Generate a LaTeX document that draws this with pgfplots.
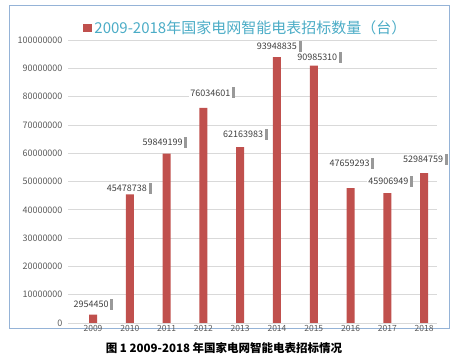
\documentclass[border=0pt]{standalone}
\usepackage{pgfplots}
\pgfplotsset{compat=1.18}
\usepackage{pgfplotstable}
\usepackage{fontspec}
\setmainfont{Noto Sans CJK SC}
\usetikzlibrary{shadows}
\definecolor{barred}{HTML}{C0504D}
\definecolor{titleblue}{HTML}{4BACC6}
\definecolor{framebl}{HTML}{95B3D7}
\definecolor{ticktxt}{HTML}{595959}
\definecolor{gridc}{HTML}{D9D9D9}
\pgfplotstableread{
x y lbl dx dy
0 2954450 2954450 -2 10
1 45478738 45478738 -3 6
2 59849199 59849199 -4 11.5
3 76034601 76034601 7 15
4 62163983 62163983 3 13
5 93948835 93948835 0 11
6 90985310 90985310 3.5 8
7 47659293 47659293 -1 25
8 45906949 45906949 1 12
9 52984759 52984759 -1 14
}\datatable
\begin{document}
\begin{tikzpicture}
\useasboundingbox (0,0) rectangle (463bp,356bp);
\draw[framebl, line width=0.8bp] (9bp,28bp) rectangle (449bp,351bp);
\begin{axis}[
  at={(68bp,33bp)}, anchor=south west,
  scale only axis, width=369bp, height=283bp,
  xmin=-0.68, xmax=9.35, ymin=0, ymax=100000000,
  axis line style={draw=none},
  major tick length=0pt,
  xtick=data,
  xticklabels={2009,2010,2011,2012,2013,2014,2015,2016,2017,2018},
  ytick distance=10000000,
  scaled y ticks=false,
  ymajorgrids, grid style={gridc, line width=0.6bp},
  /pgf/number format/assume math mode=true,
  y tick label style={/pgf/number format/.cd, fixed, 1000 sep={}, /tikz/.cd, font=\fontsize{9bp}{10bp}\selectfont, text=ticktxt, xshift=-2bp},
  x tick label style={font=\fontsize{8.5bp}{10bp}\selectfont, text=ticktxt, yshift=1bp},
  legend style={at={(0.04,1.042)}, anchor=west, draw=none, fill=none,
    font=\fontsize{15bp}{18bp}\selectfont, text=titleblue, inner sep=0pt},
  legend cell align=left,
]
\addplot[ybar, bar width=8bp, fill=barred, draw=none,
  legend image code/.code={\fill[barred] (0bp,-4bp) rectangle (9.5bp,4bp);},
  nodes near coords, point meta=explicit symbolic,
  visualization depends on={\thisrow{dx} \as \dx},
  visualization depends on={\thisrow{dy} \as \dy},
  every node near coord/.append style={anchor=center, xshift={\dx*1bp}, yshift={\dy*1bp},
    fill=white, inner xsep=1.8bp, inner ysep=2.2bp, text=black!75,
    font=\fontsize{9bp}{10bp}\selectfont,
    general shadow={fill=black!40, shadow xshift=3bp}}
] table[x=x, y=y, meta=lbl] {\datatable};
\addlegendentry{2009-2018年国家电网智能电表招标数量（台）}
\end{axis}
\node[font=\fontsize{11.5bp}{14bp}\selectfont\bfseries] at (224bp,8bp) {图 1 2009-2018 年国家电网智能电表招标情况};
\end{tikzpicture}
\end{document}
